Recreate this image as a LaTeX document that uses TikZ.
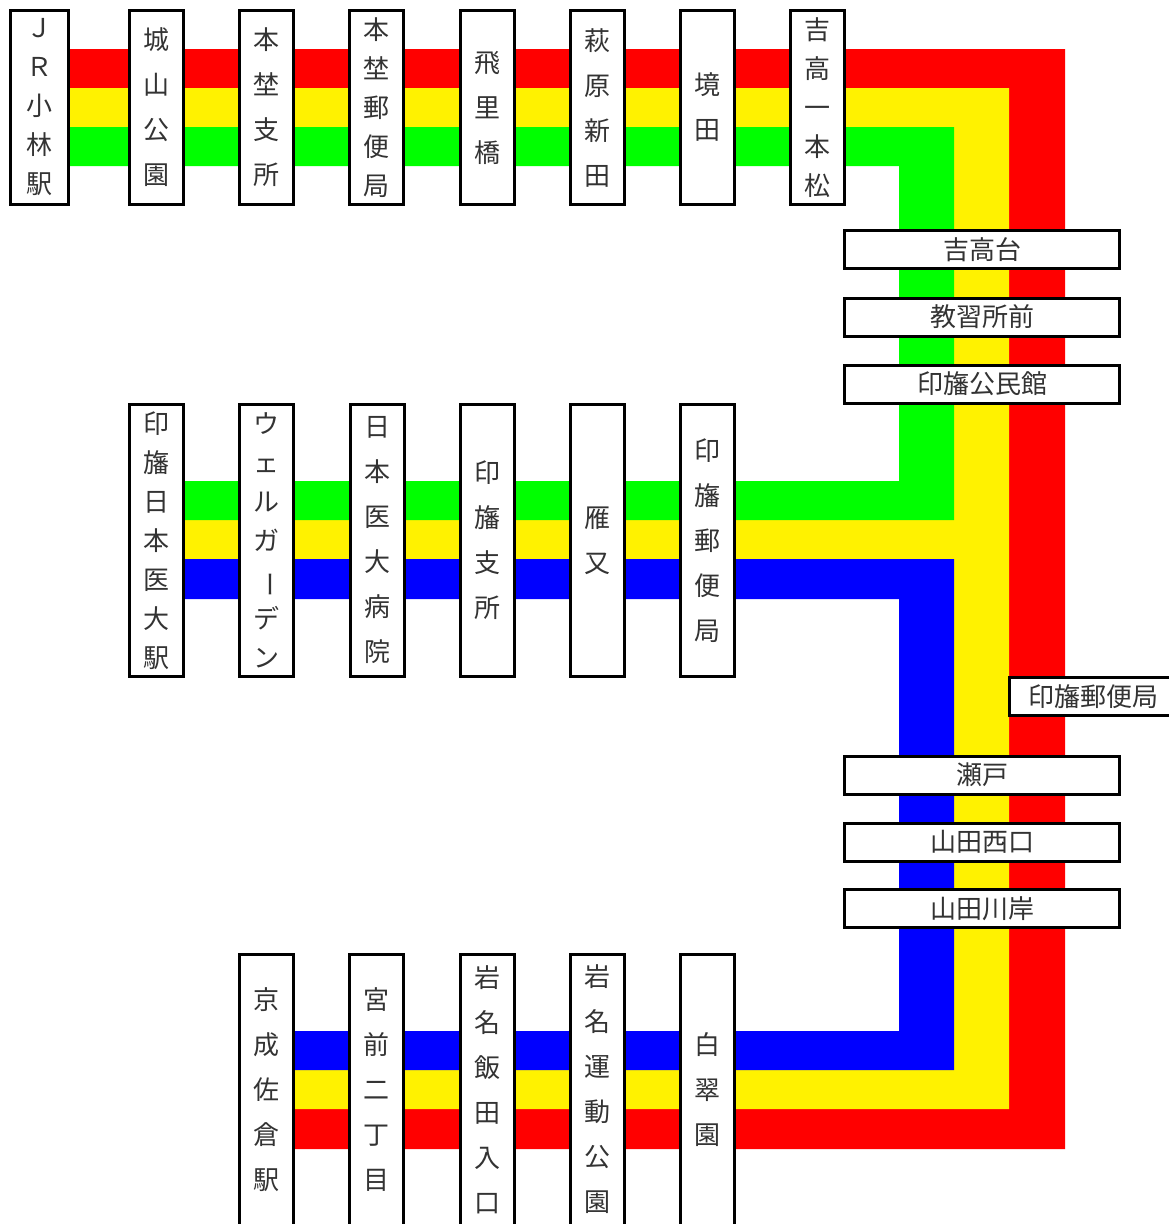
\documentclass[tikz,border=0pt]{standalone}
\usepackage{fontspec}
\setmainfont{Noto Sans CJK JP}

\begin{document}
\begin{tikzpicture}[x=1pt,y=-1pt,
    tate/.style={draw=black,line width=3pt,fill=white,text=black!80,inner sep=0pt,
        minimum width=54pt,align=center,font=\fontsize{26}{45}\selectfont},
    tatesemai/.style={tate,font=\fontsize{26}{39}\selectfont},
    yoko/.style={draw=black,line width=3pt,fill=white,text=black!80,inner sep=0pt,
        minimum width=275pt,minimum height=38pt,font=\fontsize{26}{30}\selectfont}]
    \useasboundingbox (0,0) rectangle (1169,1224);
    % colour bands
    \fill[red] (40,49) -- (1065,49) -- (1065,1149) -- (266,1149) -- (266,1109)
        -- (1009,1109) -- (1009,88) -- (40,88) -- cycle;
    \fill[yellow] (40,88) -- (1009,88) -- (1009,1109) -- (266,1109) -- (266,1070)
        -- (954,1070) -- (954,559) -- (156,559) -- (156,520) -- (954,520)
        -- (954,127) -- (40,127) -- cycle;
    \fill[green] (40,127) -- (954,127) -- (954,520) -- (156,520) -- (156,481)
        -- (899,481) -- (899,166) -- (40,166) -- cycle;
    \fill[blue] (156,559) -- (954,559) -- (954,1070) -- (266,1070) -- (266,1031)
        -- (899,1031) -- (899,599) -- (156,599) -- cycle;
    % top row
    \begin{scope}[every node/.style={minimum height=194pt}]
        \node[tatesemai,minimum width=58pt] (kobayashi) at (39.5,107.5) {Ｊ\\Ｒ\\小\\林\\駅};
        \node[tate] (shiroyama) at (156,107.5) {城\\山\\公\\園};
        \node[tate] (motonoshisho) at (266.5,107.5) {本\\埜\\支\\所};
        \node[tatesemai] (motonoyubin) at (376.5,107.5) {本\\埜\\郵\\便\\局};
        \node[tate] (hiribashi) at (487,107.5) {飛\\里\\橋};
        \node[tate] (hagiwara) at (597,107.5) {萩\\原\\新\\田};
        \node[tate] (sakaida) at (707,107.5) {境\\田};
        \node[tatesemai] (ippommatsu) at (817,107.5) {吉\\高\\一\\本\\松};
    \end{scope}
    % middle row
    \begin{scope}[every node/.style={minimum height=272pt}]
        \node[tatesemai] (idaieki) at (156,540.5) {印\\旛\\日\\本\\医\\大\\駅};
        \node[tatesemai] (welgarden) at (266,540.5) {ウ\\ェ\\ル\\ガ\\\rotatebox[origin=c]{-90}{ー}\\デ\\ン};
        \node[tate] (idaibyoin) at (377,540.5) {日\\本\\医\\大\\病\\院};
        \node[tate] (inbashisho) at (487,540.5) {印\\旛\\支\\所};
        \node[tate] (karimata) at (597.5,540.5) {雁\\又};
        \node[tate] (inbayubin) at (707,540.5) {印\\旛\\郵\\便\\局};
    \end{scope}
    % bottom row
    \begin{scope}[every node/.style={minimum height=271pt}]
        \node[tate] (keiseisakura) at (266,1089.5) {京\\成\\佐\\倉\\駅};
        \node[tate] (miyamae) at (376.5,1089.5) {宮\\前\\二\\丁\\目};
        \node[tate] (iwanaiida) at (487,1089.5) {岩\\名\\飯\\田\\入\\口};
        \node[tate] (iwanaundo) at (597,1089.5) {岩\\名\\運\\動\\公\\園};
        \node[tate] (hakusuien) at (707,1089.5) {白\\翠\\園};
    \end{scope}
    % stations on the vertical part
    \node[yoko] (yoshitakadai) at (982,249.5) {吉高台};
    \node[yoko] (kyoshujo) at (982,317) {教習所前};
    \node[yoko] (kominkan) at (982,384) {印旛公民館};
    \node[yoko,minimum width=167pt] (inbayubin2) at (1093,696.5) {印旛郵便局};
    \node[yoko] (seto) at (982,775) {瀬戸};
    \node[yoko] (nishiguchi) at (982,842) {山田西口};
    \node[yoko] (kawagishi) at (982,908.5) {山田川岸};
\end{tikzpicture}
\end{document}
